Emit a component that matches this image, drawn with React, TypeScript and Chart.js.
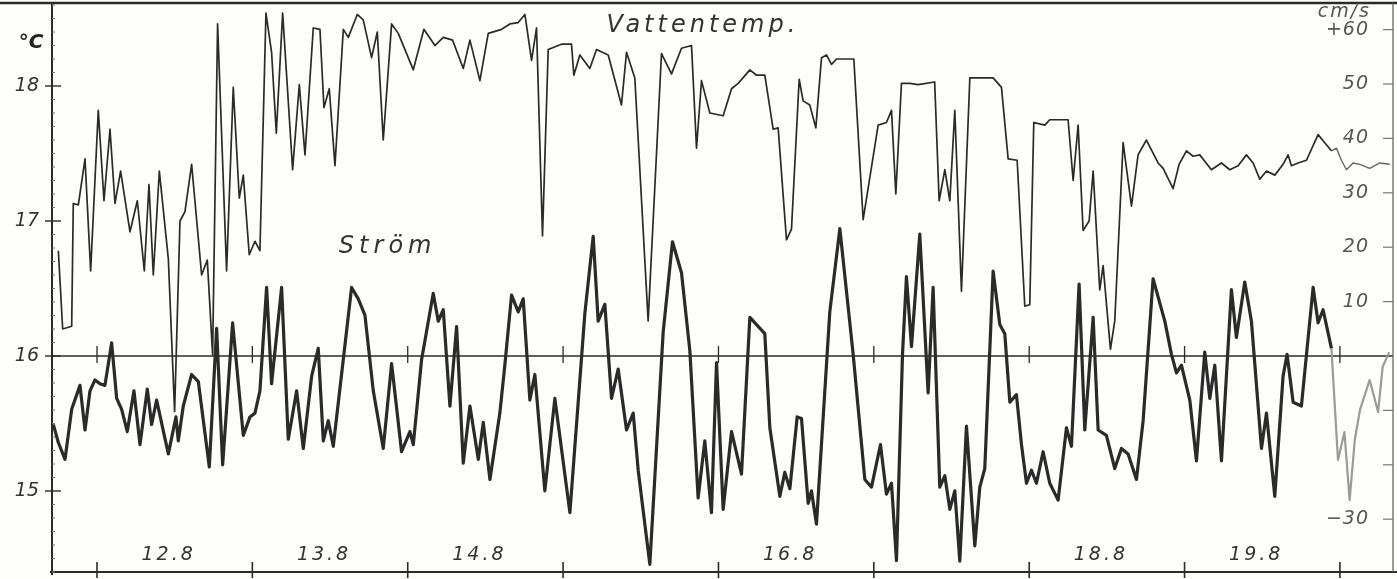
import React, { useEffect, useRef } from "react";
import { Chart, registerables } from "chart.js";

Chart.register(...registerables);

// Hours counted from 12.8 00:00
const tempHours = [-5.97, -5.3, -3.91, -3.66, -2.88, -1.85, -0.98, 0.2, 1.08, 2.01, 2.78, 3.65, 5.1, 6.23, 7.31, 8.03, 8.7, 9.63, 11.02, 11.99, 12.82, 13.59, 14.62, 16.16, 17.04, 17.86, 18.63, 20.02, 21.05, 21.98, 22.6, 23.52, 24.4, 25.17, 26.1, 26.97, 27.7, 28.68, 30.22, 31.25, 32.13, 33.41, 34.44, 35.06, 35.88, 36.76, 38.05, 38.82, 40.21, 41.13, 42.42, 43.3, 44.22, 45.51, 46.54, 48.86, 50.5, 52.2, 53.49, 54.93, 56.58, 57.61, 59.15, 60.44, 62.5, 63.78, 65.07, 66.1, 67.13, 67.9, 68.82, 69.7, 71.76, 73.3, 73.66, 74.59, 76.13, 77.16, 78.97, 81.02, 81.8, 83.08, 85.14, 87.2, 88.75, 90.29, 91.84, 92.61, 93.38, 94.67, 96.73, 98.02, 99.05, 100.85, 101.88, 103.16, 104.45, 105.22, 106.51, 107.28, 108.47, 109.08, 110.11, 111.04, 111.92, 112.69, 113.46, 114.23, 116.91, 118.35, 120.67, 121.95, 122.73, 123.4, 124.27, 125.56, 126.85, 129.4, 130.09, 130.97, 131.74, 132.51, 133.54, 134.83, 135.86, 138.43, 139.72, 140.75, 142.14, 143.32, 144.09, 144.71, 146.41, 147.18, 150.01, 150.79, 151.56, 152.33, 153.26, 153.88, 154.9, 155.42, 156.55, 157.22, 158.51, 159.8, 160.82, 162.11, 163.91, 164.69, 166.23, 167.16, 168.29, 169.32, 170.35, 172.15, 173.7, 174.99, 176.27, 177.56, 178.59, 179.62, 180.65, 181.94, 183.22, 183.99, 184.51, 185.54, 186.83, 188.63, 189.66, 190.69, 191.46, 192.23, 193.0, 194.03, 195.06, 196.61, 198.15, 199.7];
const tempValues = [16.78, 16.2, 16.22, 17.13, 17.12, 17.46, 16.63, 17.82, 17.15, 17.68, 17.13, 17.37, 16.92, 17.15, 16.63, 17.27, 16.6, 17.37, 16.72, 15.59, 17.0, 17.07, 17.42, 16.6, 16.71, 16.01, 18.46, 16.63, 17.99, 17.17, 17.34, 16.75, 16.85, 16.78, 18.54, 18.25, 17.65, 18.54, 17.38, 18.01, 17.49, 18.43, 18.42, 17.84, 17.98, 17.41, 18.42, 18.36, 18.53, 18.49, 18.21, 18.4, 17.6, 18.46, 18.39, 18.12, 18.42, 18.3, 18.36, 18.34, 18.13, 18.34, 18.04, 18.39, 18.42, 18.46, 18.47, 18.53, 18.19, 18.43, 16.89, 18.27, 18.31, 18.31, 18.08, 18.23, 18.13, 18.27, 18.23, 17.86, 18.25, 18.06, 16.26, 18.24, 18.09, 18.28, 18.3, 17.54, 18.04, 17.8, 17.78, 17.98, 18.02, 18.12, 18.08, 18.08, 17.68, 17.69, 16.86, 16.94, 18.05, 17.89, 17.86, 17.69, 18.21, 18.23, 18.16, 18.2, 18.2, 17.01, 17.71, 17.73, 17.82, 17.2, 18.02, 18.02, 18.01, 18.03, 17.15, 17.38, 17.15, 17.82, 16.48, 18.06, 18.06, 18.06, 17.99, 17.46, 17.45, 16.37, 16.38, 17.73, 17.71, 17.75, 17.75, 17.3, 17.71, 16.93, 17.0, 17.37, 16.49, 16.67, 16.05, 16.26, 17.58, 17.11, 17.49, 17.6, 17.43, 17.39, 17.24, 17.42, 17.52, 17.48, 17.49, 17.38, 17.43, 17.38, 17.41, 17.49, 17.43, 17.31, 17.37, 17.34, 17.42, 17.49, 17.41, 17.43, 17.45, 17.64, 17.58, 17.52, 17.54, 17.45, 17.38, 17.43, 17.42, 17.39, 17.43, 17.42];

const flowHours = [-6.75, -5.97, -4.94, -3.91, -2.63, -1.85, -1.08, -0.31, 0.46, 1.23, 2.26, 3.04, 3.81, 4.68, 5.71, 6.64, 7.77, 8.44, 9.21, 11.02, 12.2, 12.56, 13.33, 14.62, 15.65, 17.35, 18.48, 19.41, 20.95, 22.6, 23.63, 24.4, 25.17, 26.2, 26.97, 28.52, 29.55, 30.84, 31.87, 33.16, 34.18, 34.96, 35.73, 36.5, 39.33, 40.36, 41.39, 42.68, 44.22, 45.51, 47.05, 48.34, 48.86, 50.14, 51.94, 52.72, 53.49, 54.52, 55.55, 56.58, 57.61, 58.9, 59.67, 60.7, 62.23, 63.0, 64.04, 65.07, 65.84, 66.87, 67.64, 69.18, 70.73, 73.05, 75.36, 76.65, 77.42, 78.45, 79.48, 80.51, 81.8, 82.83, 83.6, 85.4, 87.46, 88.9, 90.29, 91.58, 92.86, 93.89, 94.92, 95.7, 96.73, 98.02, 99.56, 100.85, 103.16, 103.94, 105.48, 106.25, 107.03, 108.16, 108.83, 109.86, 110.37, 111.14, 113.2, 114.75, 116.81, 118.61, 119.64, 121.03, 121.95, 122.73, 123.5, 124.43, 125.04, 125.82, 127.1, 128.39, 129.16, 130.19, 130.97, 131.74, 132.51, 133.28, 134.31, 135.6, 136.37, 137.14, 138.43, 139.46, 140.23, 141.01, 142.03, 142.81, 143.58, 144.35, 145.12, 146.15, 147.18, 148.47, 149.76, 150.53, 151.71, 152.59, 153.88, 154.65, 155.93, 157.22, 158.25, 159.28, 160.57, 161.6, 163.14, 164.95, 165.98, 166.75, 167.52, 168.81, 169.84, 171.12, 171.9, 172.67, 173.7, 175.24, 176.01, 177.3, 178.33, 179.88, 180.65, 181.94, 183.22, 183.84, 184.77, 186.05, 187.86, 188.63, 189.4, 190.69, 191.7, 192.7, 193.5, 194.3, 195.1, 196.6, 197.9, 198.6, 199.6];
const flowValues = [-12.6, -15.9, -19.0, -9.8, -5.4, -13.6, -6.4, -4.4, -5.1, -5.4, 2.4, -7.8, -9.8, -13.9, -6.4, -16.3, -6.1, -12.6, -8.1, -18.0, -11.2, -15.6, -9.2, -3.4, -4.7, -20.4, 5.1, -20.0, 6.1, -14.6, -11.2, -10.5, -6.4, 12.6, -5.1, 12.6, -15.3, -6.4, -17.0, -3.7, 1.4, -15.6, -11.9, -16.6, 12.6, 10.5, 7.5, -6.4, -17.0, -1.4, -17.6, -13.9, -16.3, -0.7, 11.5, 6.4, 8.5, -9.2, 5.4, -19.7, -9.2, -19.0, -12.2, -22.7, -10.5, -1.7, 11.2, 8.1, 10.5, -8.1, -3.4, -24.8, -7.8, -28.8, 7.8, 22.0, 6.4, 9.5, -7.8, -2.4, -13.6, -10.5, -21.0, -38.3, 4.4, 21.0, 15.3, 1.0, -26.1, -15.6, -28.8, -1.2, -28.2, -13.9, -21.7, 7.1, 4.1, -13.2, -25.8, -21.4, -24.4, -11.2, -11.5, -27.1, -24.8, -30.9, 8.1, 23.4, 0.3, -22.7, -24.1, -16.3, -25.4, -23.4, -37.6, 0.3, 14.6, 1.7, 22.4, -6.8, 12.6, -24.1, -22.0, -28.2, -24.8, -37.7, -12.9, -34.9, -24.1, -20.7, 15.6, 5.8, 4.1, -8.5, -7.1, -16.3, -23.4, -21.0, -23.4, -17.6, -23.4, -26.5, -13.2, -16.6, 13.2, -13.6, 7.1, -13.6, -14.6, -20.7, -17.0, -18.0, -22.7, -11.9, 14.2, 6.4, 0.3, -3.1, -1.7, -8.1, -19.3, 0.7, -7.8, -1.7, -19.3, 12.2, 3.4, 13.6, 6.4, -17.0, -10.5, -25.8, -3.7, 0.3, -8.5, -9.2, 12.6, 6.1, 8.5, 1.4, -19.1, -14.0, -26.5, -15.4, -9.9, -4.4, -10.3, -2.0, 0.7];

// the record fades to grey after this hour
const FADE_FROM = 190.69;

const dayStarts = [0, 24, 48, 72, 96, 120, 144, 168, 192];
const dayLabels = ["12.8", "13.8", "14.8", "", "16.8", "", "18.8", "19.8", ""];
const tempTicks = [15, 16, 17, 18];
const tempTickLabels = ["15", "16", "17", "18"];
const flowTicks = [60, 50, 40, 30, 20, 10, -10, -20, -30];
const flowTickLabels = ["+60", "50", "40", "30", "20", "10", "", "", "−30"];

const X_MIN = -6.95;
const X_MAX = 200.2;
const T_MIN = 14.4;
const T_MAX = 18.615;
const S_MIN = -39.71;
const S_MAX = 64.89;

const INK = "#2a2a2a";
const FADED = "#9a9a9a";
const FONT = '"DejaVu Sans", "Liberation Sans", sans-serif';

function drawText(
  ctx: CanvasRenderingContext2D,
  text: string,
  x: number,
  y: number,
  size: number,
  align: CanvasTextAlign,
  color: string,
  spacing = 0,
  weight = "normal"
) {
  ctx.save();
  ctx.font = `italic ${weight} ${size}px ${FONT}`;
  (ctx as any).letterSpacing = `${spacing}px`;
  ctx.fillStyle = color;
  ctx.textAlign = align;
  ctx.textBaseline = "middle";
  ctx.fillText(text, x, y);
  ctx.restore();
}

const framePlugin = {
  id: "frame",
  beforeDatasetsDraw(chart: any) {
    const ctx: CanvasRenderingContext2D = chart.ctx;
    const { left, right, top, bottom } = chart.chartArea;
    const xs = chart.scales.x;
    const yT = chart.scales.yT;
    const yS = chart.scales.yS;
    ctx.save();
    ctx.fillStyle = "#fdfdfb";
    ctx.fillRect(0, 0, chart.width, chart.height);
    ctx.strokeStyle = INK;
    ctx.lineCap = "butt";

    // reference line 16 °C / 0 cm/s
    const y0 = yT.getPixelForValue(16);
    ctx.lineWidth = 1.6;
    ctx.beginPath();
    ctx.moveTo(left, y0);
    ctx.lineTo(right, y0);
    ctx.stroke();
    ctx.lineWidth = 1.3;
    dayStarts.forEach((d) => {
      const x = xs.getPixelForValue(d);
      ctx.beginPath();
      ctx.moveTo(x, y0 - 10);
      ctx.lineTo(x, y0 + 7);
      ctx.stroke();
    });

    // frame
    ctx.lineWidth = 2.6;
    ctx.beginPath();
    ctx.moveTo(0, top);
    ctx.lineTo(chart.width, top);
    ctx.stroke();
    ctx.lineWidth = 2;
    ctx.beginPath();
    ctx.moveTo(left, top);
    ctx.lineTo(left, bottom + 3);
    ctx.moveTo(left - 2, bottom);
    ctx.lineTo(chart.width, bottom);
    ctx.stroke();
    ctx.strokeStyle = "#666";
    ctx.lineWidth = 1.3;
    ctx.beginPath();
    ctx.moveTo(right, top);
    ctx.lineTo(right, bottom);
    ctx.stroke();

    // day ticks on time axis
    ctx.strokeStyle = INK;
    ctx.lineWidth = 1.6;
    dayStarts.forEach((d) => {
      const x = xs.getPixelForValue(d);
      ctx.beginPath();
      ctx.moveTo(x, bottom - 10);
      ctx.lineTo(x, bottom + 6);
      ctx.stroke();
    });

    // left axis ticks
    ctx.lineWidth = 1.4;
    tempTicks.forEach((t) => {
      const y = yT.getPixelForValue(t);
      ctx.beginPath();
      ctx.moveTo(left - 7, y);
      ctx.lineTo(left + 9, y);
      ctx.stroke();
    });
    ctx.strokeStyle = "#777";
    ctx.lineWidth = 1;
    for (let v = Math.ceil(T_MIN * 10); v <= Math.floor(T_MAX * 10); v++) {
      if (v % 10 === 0) continue;
      const y = yT.getPixelForValue(v / 10);
      ctx.beginPath();
      ctx.moveTo(left, y);
      ctx.lineTo(left + 3, y);
      ctx.stroke();
    }

    // right axis ticks
    ctx.strokeStyle = "#777";
    ctx.lineWidth = 1.2;
    flowTicks.forEach((s) => {
      const y = yS.getPixelForValue(s);
      ctx.beginPath();
      ctx.moveTo(right - 10, y);
      ctx.lineTo(right, y);
      ctx.stroke();
    });
    ctx.restore();
  },
  afterDraw(chart: any) {
    const ctx: CanvasRenderingContext2D = chart.ctx;
    const { left, right, top, bottom } = chart.chartArea;
    const xs = chart.scales.x;
    const yT = chart.scales.yT;
    const yS = chart.scales.yS;

    tempTicks.forEach((t, i) => {
      drawText(ctx, tempTickLabels[i], left - 13, yT.getPixelForValue(t), 19, "right", "#333", 0);
    });
    drawText(ctx, "°C", left - 21, top + 40, 20, "center", "#222", 0, "bold");

    flowTicks.forEach((s, i) => {
      if (!flowTickLabels[i]) return;
      drawText(ctx, flowTickLabels[i], right - 24, yS.getPixelForValue(s), 19, "right", "#555", 1);
    });
    drawText(ctx, "cm/s", right - 22, top + 9, 19, "right", "#555", 2);

    dayStarts.forEach((d, i) => {
      if (!dayLabels[i]) return;
      const x = xs.getPixelForValue(d + 12) - 6;
      drawText(ctx, dayLabels[i], x, bottom - 17, 19, "center", "#333", 3);
    });

    drawText(ctx, "Vattentemp.", xs.getPixelForValue(93.6), yT.getPixelForValue(18.45), 24, "center", "#333", 4);
    drawText(ctx, "Ström", xs.getPixelForValue(44.9), yS.getPixelForValue(20), 24, "center", "#333", 5);
  },
};

function points(xs: number[], ys: number[], keep: (x: number) => boolean) {
  return xs.map((x, i) => ({ x, y: ys[i] })).filter((p) => keep(p.x));
}

export default function App() {
  const canvasRef = useRef<HTMLCanvasElement | null>(null);

  useEffect(() => {
    document.body.style.margin = "0";
    const canvas = canvasRef.current;
    if (!canvas) return;
    const chart = new Chart(canvas, {
      type: "line",
      data: {
        datasets: [
          {
            label: "Vattentemp.",
            data: points(tempHours, tempValues, (x) => x <= FADE_FROM),
            yAxisID: "yT",
            borderColor: INK,
            borderWidth: 1.7,
            pointRadius: 0,
            tension: 0,
            borderJoinStyle: "round",
          },
          {
            label: "Vattentemp. (faded)",
            data: points(tempHours, tempValues, (x) => x >= FADE_FROM),
            yAxisID: "yT",
            borderColor: "#666",
            borderWidth: 1.4,
            pointRadius: 0,
            tension: 0,
            borderJoinStyle: "round",
          },
          {
            label: "Ström",
            data: points(flowHours, flowValues, (x) => x <= FADE_FROM),
            yAxisID: "yS",
            borderColor: INK,
            borderWidth: 3.2,
            pointRadius: 0,
            tension: 0,
            borderJoinStyle: "round",
          },
          {
            label: "Ström (faded)",
            data: points(flowHours, flowValues, (x) => x >= FADE_FROM),
            yAxisID: "yS",
            borderColor: FADED,
            borderWidth: 2.2,
            pointRadius: 0,
            tension: 0,
            borderJoinStyle: "round",
          },
        ],
      },
      options: {
        animation: false,
        responsive: false,
        maintainAspectRatio: false,
        layout: { padding: { left: 52, right: 4, top: 3, bottom: 7 } },
        plugins: { legend: { display: false }, tooltip: { enabled: false } },
        scales: {
          x: { type: "linear", min: X_MIN, max: X_MAX, display: false },
          yT: { type: "linear", position: "left", min: T_MIN, max: T_MAX, display: false },
          yS: { type: "linear", position: "right", min: S_MIN, max: S_MAX, display: false },
        },
      },
      plugins: [framePlugin],
    });
    return () => chart.destroy();
  }, []);

  return (
    <div style={{ position: "absolute", left: 0, top: 0, width: 1397, height: 579 }}>
      <canvas ref={canvasRef} width={1397} height={579} />
    </div>
  );
}
